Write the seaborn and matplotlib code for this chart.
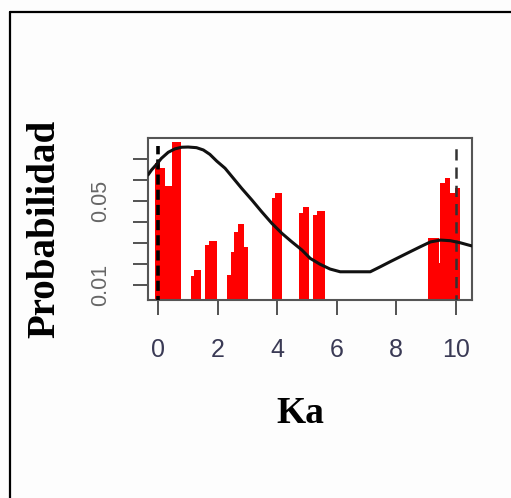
import numpy as np
import pandas as pd
import seaborn as sns
import matplotlib
matplotlib.use("Agg")
import matplotlib.pyplot as plt
from matplotlib.lines import Line2D

# ---- data ----
bar_start = [-0.11, 0.06, 0.23, 0.45, 1.10, 1.20, 1.57, 1.70, 2.30, 2.45, 2.56, 2.69, 2.90,
             3.82, 3.92, 4.75, 4.86, 5.22, 5.34, 9.06, 9.43, 9.48, 9.65, 9.82, 9.99]
bar_end = [0.06, 0.23, 0.45, 0.76, 1.20, 1.44, 1.70, 1.97, 2.45, 2.56, 2.69, 2.90, 3.03,
           3.92, 4.15, 4.86, 5.08, 5.34, 5.61, 9.43, 9.48, 9.65, 9.82, 9.99, 10.16]
bar_height = [0.068, 0.0655, 0.057, 0.078, 0.0145, 0.0171, 0.029, 0.031, 0.0148, 0.0259, 0.0354,
              0.0389, 0.0282, 0.0515, 0.0537, 0.0443, 0.0473, 0.0435, 0.0452, 0.0322, 0.0203,
              0.0584, 0.0608, 0.0537, 0.056]

curve_x = [-0.34, -0.22, -0.05, 0.11, 0.34, 0.56, 0.79, 1.01, 1.29, 1.52, 1.74, 1.97, 2.25,
           2.53, 2.81, 3.15, 3.48, 3.82, 4.16, 4.49, 4.83, 5.11, 5.44, 5.78, 6.12, 7.13,
           7.47, 7.80, 8.14, 8.48, 8.81, 9.15, 9.49, 9.82, 10.16, 10.44, 10.55]
curve_y = [0.0624, 0.0648, 0.0675, 0.0703, 0.0732, 0.0748, 0.0756, 0.0757, 0.0754, 0.0743,
           0.0722, 0.0690, 0.0656, 0.0608, 0.0560, 0.0505, 0.0449, 0.0394, 0.0346, 0.0306,
           0.0267, 0.0227, 0.0199, 0.0176, 0.0163, 0.0163, 0.0187, 0.0211, 0.0235, 0.0259,
           0.0282, 0.0305, 0.0314, 0.0311, 0.0301, 0.0290, 0.0286]

vline_x = [0, 10]
vline_top = [0.0760, 0.0767]

x_ticks = [0, 2, 4, 6, 8, 10]
y_ticks = [0.01, 0.02, 0.03, 0.04, 0.05, 0.06, 0.07]
y_tick_labels = ["0.01", "", "", "", "0.05", "", ""]

sns.set_theme(style="white")
plt.rcParams['font.family'] = ['Liberation Sans', 'DejaVu Sans']

W, H = 511, 498
fig = plt.figure(figsize=(W / 100, H / 100), dpi=100, facecolor="#fdfdfd")
ax = fig.add_axes([148 / W, 1 - 300 / H, (472 - 148) / W, (300 - 138) / H])
ax.set_facecolor("white")

# bars
widths = [e - s for s, e in zip(bar_start, bar_end)]
ax.bar(bar_start, bar_height, width=widths, align="edge", color="#ff0000",
       edgecolor="none", linewidth=0, zorder=2)

# dashed reference lines
ax.vlines(vline_x[0], 0, vline_top[0], colors="black", linewidth=2.6,
          linestyles=(0, (2.8, 1.4)), zorder=3)
ax.vlines(vline_x[1], 0, vline_top[1], colors="#333333", linewidth=1.8,
          linestyles=(0, (4.5, 2.8)), zorder=3)

# curve
df = pd.DataFrame({"Ka": curve_x, "p": curve_y})
sns.lineplot(data=df, x="Ka", y="p", ax=ax, color="#111111", linewidth=2.2,
             sort=True, zorder=4)

ax.set_xlim(-0.34, 10.55)
ax.set_ylim(0.00286, 0.0800)

ax.set_xticks(x_ticks)
ax.set_xticklabels([str(t) for t in x_ticks], fontsize=18, color="#3a3a55")
ax.set_yticks(y_ticks)
ax.set_yticklabels(y_tick_labels, fontsize=15.5, color="#666666", rotation=90, va="center")

ax.tick_params(axis="x", direction="out", length=10.5, width=1.3, color="#444444",
               pad=17, bottom=True)
ax.tick_params(axis="y", direction="out", length=10.5, width=1.3, color="#444444",
               pad=16, left=True)

for sp in ax.spines.values():
    sp.set_visible(True)
    sp.set_color("#555555")
    sp.set_linewidth(1.5)

ax.set_xlabel("Ka", fontsize=27, fontweight="bold", family="Liberation Serif", color="black")
ax.set_ylabel("Probabilidad", fontsize=28, fontweight="bold", family="Liberation Serif",
              color="black")
ax.xaxis.set_label_coords((300 - 148) / 324, (300 - 413) / 162)
ax.xaxis.label.set_va("center")
ax.yaxis.set_label_coords((45 - 148) / 324, (300 - 229) / 162)
ax.yaxis.label.set_va("center")

# outer frame (top and left edges)
fig.add_artist(Line2D([10 / W, 1], [1 - 12 / H, 1 - 12 / H], transform=fig.transFigure,
                      color="black", linewidth=1.6))
fig.add_artist(Line2D([10 / W, 10 / W], [0, 1 - 12 / H], transform=fig.transFigure,
                      color="black", linewidth=1.6))

fig.savefig("out.png", dpi=100, facecolor=fig.get_facecolor())
